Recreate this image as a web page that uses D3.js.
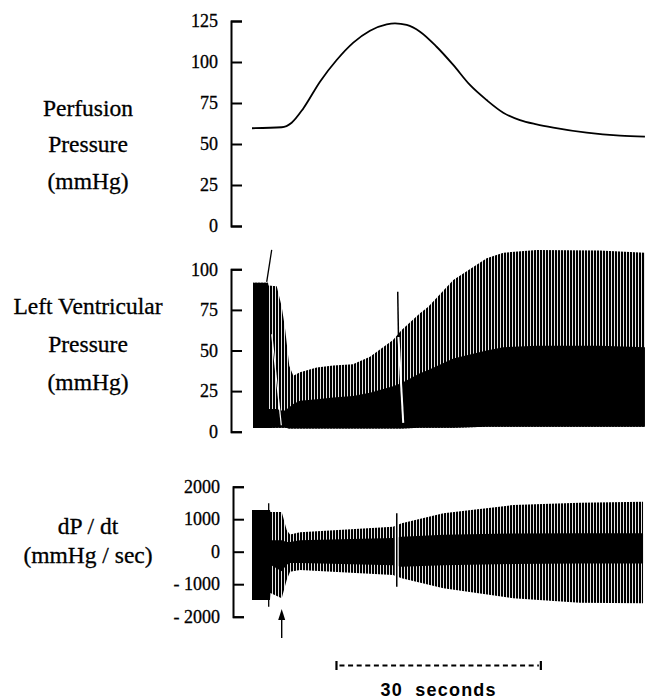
<!DOCTYPE html>
<html>
<head>
<meta charset="utf-8">
<script src="https://cdn.jsdelivr.net/npm/d3@7"></script>
<style>
  body { margin: 0; background: #fff; }
  svg { display: block; }
</style>
</head>
<body>
<svg id="chart" width="647" height="699"></svg>
<script>
// ---- data (time in seconds from start of trace) ----

// Perfusion pressure (mmHg)
const perfTime  = [0, 4.36, 5.82, 7.53, 9.98, 12.43, 14.87, 17.32, 19.77, 20.99, 22.7, 24.66, 27.1, 29.54, 31.99, 34.44, 36.88, 39.33, 41.78, 44.23, 49.13, 54.02, 57.68];
const perfValue = [59.6, 60.2, 63, 71.7, 88, 101.2, 111.8, 119.1, 123, 123.6, 122.6, 118.5, 109.3, 98.2, 86, 76.8, 69.1, 64.6, 62, 60, 56.9, 55.1, 54.5];
const perfTicks = [0, 25, 50, 75, 100, 125];

// Left ventricular pressure envelope (mmHg)
const lvTime      = [0.15, 2.35, 2.42, 3.63, 4.36, 4.84, 5.47, 6.06, 7.05, 9.5, 11.93, 14.82, 17.32, 20.7, 21.97, 24.66, 25.88, 29.55, 34.45, 36.89, 41.79, 51.08, 57.68];
const lvSystolic  = [91.7, 91.7, 90, 89.5, 77, 64, 40.6, 34.4, 36.6, 39.6, 40.8, 41.5, 46.2, 56.5, 62.6, 73, 77, 93.4, 106.8, 110.2, 111.9, 111.5, 110.2];
const lvDiastolic = [2.3, 2.3, 2.3, 2.5, 2.5, 2.5, 2, 2, 2, 2, 2, 2, 2, 2, 2, 2.5, 2.5, 2.5, 3, 3, 3, 3, 3];
const lvCore      = [91.7, 91.7, 14, 14, 13, 13, 15, 17, 19, 20, 21, 22, 24, 28, 30, 36, 38, 45, 50, 52, 53, 53, 52];
const lvTicks = [0, 25, 50, 75, 100];

// dP/dt envelope (mmHg / sec)
const dpTime    = [0, 2.64, 2.7, 4.36, 5.09, 5.58, 7.05, 20.7, 21.97, 28.1, 38.35, 48.12, 57.4];
const dpMax     = [1283, 1283, 1220, 1220, 668, 530, 600, 770, 877, 1181, 1437, 1508, 1538];
const dpMin     = [-1486, -1486, -1270, -1434, -871, -615, -563, -717, -817, -1126, -1434, -1569, -1588];
const dpCoreMax = [1283, 1283, 350, 350, 300, 300, 350, 420, 460, 520, 560, 570, 570];
const dpCoreMin = [-1486, -1486, -400, -600, -400, -350, -350, -420, -460, -420, -380, -360, -360];
const dpTicks = [-2000, -1000, 0, 1000, 2000];
const dpTickLabels = ["- 2000", "- 1000", "0", "1000", "2000"];

// recorder artefacts (pen strokes)
const lvArtifacts = [
  { t0: 2.16, v0: 92.3, t1: 2.89, v1: 111.9, color: "#000", w: 1.3 },
  { t0: 2.9, v0: 60, t1: 4.3, v1: 4, color: "#fff", w: 1.2 },
  { t0: 21.39, v0: 86.2, t1: 21.5, v1: 58.3, color: "#000", w: 1.5 },
  { t0: 21.5, v0: 58.3, t1: 22.2, v1: 5.4, color: "#fff", w: 2 }
];
const dpArtifacts = [
  { t0: 2.45, v0: 1489, t1: 2.45, v1: -1692, color: "#000", w: 1.3 },
  { t0: 21.25, v0: 1000, t1: 21.25, v1: -1000, color: "#fff", w: 4 },
  { t0: 21.25, v0: 1180, t1: 21.25, v1: -1077, color: "#000", w: 1.5 }
];

// stimulus arrow and time calibration
const arrowTime = 4.36;
const scaleBarStart = 12.4;
const scaleBarSeconds = 30;

// ---- layout ----
const svg = d3.select('#chart');
const serif = '"Liberation Serif", "Times New Roman", serif';

const x = d3.scaleLinear().domain([0, 57.6]).range([252, 644.4]);

const yPerf = d3.scaleLinear().domain([0, 125]).range([226, 21]);
const yLv = d3.scaleLinear().domain([0, 100]).range([431.7, 269.3]);
const yDp = d3.scaleLinear().domain([-2000, 2000]).range([616.7, 486.7]);

// beat-by-beat hatching
const defs = svg.append('defs');
const pat = defs.append('pattern')
  .attr('id', 'beats')
  .attr('patternUnits', 'userSpaceOnUse')
  .attr('width', 3)
  .attr('height', 8);
pat.append('rect').attr('width', 3).attr('height', 8).attr('fill', '#fff');
pat.append('rect').attr('width', 2.1).attr('height', 8).attr('fill', '#000');

function drawAxis(scale, ticks, labels, axisX) {
  const axis = d3.axisLeft(scale)
    .tickValues(ticks)
    .tickSizeInner(-11)
    .tickSizeOuter(-11)
    .tickPadding(13);
  if (labels) axis.tickFormat((d, i) => labels[i]);
  const g = svg.append('g')
    .attr('transform', `translate(${axisX},0)`)
    .call(axis);
  g.select('.domain').attr('stroke-width', 2);
  g.selectAll('.tick line').attr('stroke-width', 2);
  g.selectAll('.tick text')
    .style('font-family', serif)
    .style('font-size', '18px')
    .attr('fill', '#000')
    .attr('stroke', '#000')
    .attr('stroke-width', 0.3);
  return g;
}

function drawLabel(lines, baselines) {
  svg.append('g').selectAll('text')
    .data(lines)
    .join('text')
    .attr('x', 88)
    .attr('y', (d, i) => baselines[i])
    .attr('text-anchor', 'middle')
    .attr('stroke', '#000')
    .attr('stroke-width', 0.3)
    .style('font-family', serif)
    .style('font-size', '23.5px')
    .text(d => d);
}

function drawArtifacts(list, yScale) {
  svg.append('g').selectAll('line')
    .data(list)
    .join('line')
    .attr('x1', d => x(d.t0))
    .attr('y1', d => yScale(d.v0))
    .attr('x2', d => x(d.t1))
    .attr('y2', d => yScale(d.v1))
    .attr('stroke', d => d.color)
    .attr('stroke-width', d => d.w);
}

// ---- Perfusion pressure ----
drawAxis(yPerf, perfTicks, null, 231);
drawLabel(['Perfusion', 'Pressure', '(mmHg)'], [116, 152, 189]);

const perfPts = perfTime.map((t, i) => [t, perfValue[i]]);
svg.append('path')
  .datum(perfPts)
  .attr('fill', 'none')
  .attr('stroke', '#000')
  .attr('stroke-width', 1.8)
  .attr('d', d3.line().x(d => x(d[0])).y(d => yPerf(d[1])).curve(d3.curveMonotoneX));

// ---- Left ventricular pressure ----
drawAxis(yLv, lvTicks, null, 231);
drawLabel(['Left Ventricular', 'Pressure', '(mmHg)'], [314, 352, 390]);

const lvPts = lvTime.map((t, i) => ({ t, hi: lvSystolic[i], lo: lvDiastolic[i], core: lvCore[i] }));
svg.append('path')
  .datum(lvPts)
  .attr('fill', 'url(#beats)')
  .attr('d', d3.area().x(d => x(d.t)).y0(d => yLv(d.lo)).y1(d => yLv(d.hi)));
svg.append('path')
  .datum(lvPts)
  .attr('fill', '#000')
  .attr('d', d3.area().x(d => x(d.t)).y0(d => yLv(d.lo)).y1(d => yLv(d.core)));
drawArtifacts(lvArtifacts, yLv);

// ---- dP/dt ----
drawAxis(yDp, dpTicks, dpTickLabels, 233);
drawLabel(['dP / dt', '(mmHg / sec)'], [534, 563]);

const dpPts = dpTime.map((t, i) => ({ t, hi: dpMax[i], lo: dpMin[i], cHi: dpCoreMax[i], cLo: dpCoreMin[i] }));
svg.append('path')
  .datum(dpPts)
  .attr('fill', 'url(#beats)')
  .attr('d', d3.area().x(d => x(d.t)).y0(d => yDp(d.lo)).y1(d => yDp(d.hi)));
svg.append('path')
  .datum(dpPts)
  .attr('fill', '#000')
  .attr('d', d3.area().x(d => x(d.t)).y0(d => yDp(d.cLo)).y1(d => yDp(d.cHi)));
drawArtifacts(dpArtifacts, yDp);

// stimulus arrow
const ax = x(arrowTime);
svg.append('line')
  .attr('x1', ax).attr('x2', ax)
  .attr('y1', 617).attr('y2', 638)
  .attr('stroke', '#000').attr('stroke-width', 1.4);
svg.append('path')
  .attr('d', `M${ax},609 L${ax - 3.5},620 L${ax + 3.5},620 Z`)
  .attr('fill', '#000');

// ---- 30 second calibration bar ----
const sb0 = x(scaleBarStart), sb1 = x(scaleBarStart + scaleBarSeconds);
const bar = svg.append('g');
bar.append('line')
  .attr('x1', sb0 + 3).attr('x2', sb1 - 2)
  .attr('y1', 665.5).attr('y2', 665.5)
  .attr('stroke', '#000').attr('stroke-width', 1.8)
  .attr('stroke-dasharray', '5,3.6');
[sb0, sb1].forEach(px => {
  bar.append('line')
    .attr('x1', px).attr('x2', px)
    .attr('y1', 661).attr('y2', 670)
    .attr('stroke', '#000').attr('stroke-width', 2.2);
});
bar.append('text')
  .attr('x', (sb0 + sb1) / 2)
  .attr('y', 696)
  .attr('text-anchor', 'middle')
  .style('font-family', '"Liberation Sans", Arial, sans-serif')
  .style('font-size', '18px')
  .style('font-weight', 'bold')
  .style('letter-spacing', '1.2px')
  .style('white-space', 'pre')
  .text('30  seconds');
</script>
</body>
</html>
